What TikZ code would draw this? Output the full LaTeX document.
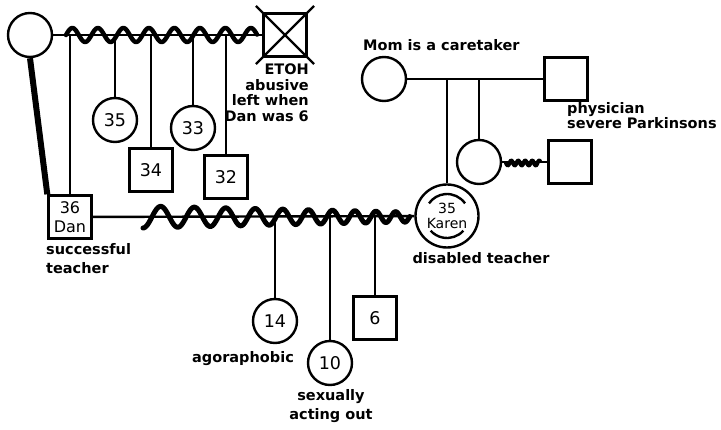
\documentclass[tikz,border=0pt]{standalone}
\usepackage{fontspec}
\setmainfont{DejaVu Sans}
\begin{document}
\begin{tikzpicture}[x=1pt,y=-1pt,
  lbl/.style={font=\fontsize{14.5}{15.5}\selectfont\bfseries, inner sep=0pt},
  fem/.style={circle, draw, line width=2.4pt, minimum size=44pt, inner sep=0pt, font=\fontsize{17.5}{17}\selectfont},
  mal/.style={rectangle, draw, line width=2.4pt, minimum width=43pt, minimum height=43pt, inner sep=0pt, font=\fontsize{17.5}{17}\selectfont},
  rel/.style={line width=2.4pt},
  conflict/.style={line width=4.5pt, line cap=round, line join=round},
  cutoff/.style={line width=6pt}]
\useasboundingbox (0,0) rectangle (721,430);

% ---- Dan's parents ----
\node[fem] (gm) at (30,35) {};
\node[mal] (gf) at (285,35) {};
\draw[rel, shorten <=-9pt, shorten >=-9pt] (gf.north west) -- (gf.south east);
\draw[rel, shorten <=-9pt, shorten >=-9pt] (gf.north east) -- (gf.south west);
\draw[rel] (gm) -- (gf);
\draw[conflict] plot[domain=66:257, samples=160, smooth] (\x, {35 - 7*sin(deg(2*pi*(\x-66)/25.5))});
\node[lbl, anchor=north east, align=right] (etoh) at (309,64) {ETOH\\abusive\\left when\\Dan was 6};

% ---- siblings of Dan ----
\node[mal, align=center, font=\fontsize{16}{19}\selectfont] (dan) at (70,217) {36\\Dan};
\node[fem] (s35) at (115,120) {35};
\node[mal] (b34) at (151,170) {34};
\node[fem] (s33) at (193,128) {33};
\node[mal] (b32) at (226,177) {32};
\draw[rel] (dan) -- (dan |- gm);
\draw[rel] (s35) -- (s35 |- gm);
\draw[rel] (b34) -- (b34 |- gm);
\draw[rel] (s33) -- (s33 |- gm);
\draw[rel] (b32) -- (b32 |- gm);
\draw[cutoff] (gm.south) -- (dan.north west);
\node[lbl, anchor=north west, align=left, font=\fontsize{14.5}{19.5}\selectfont\bfseries] (dl) at (46,243) {successful\\teacher};

% ---- Karen's parents ----
\node[fem] (mom) at (384,79) {};
\node[mal] (kdad) at (566,79) {};
\draw[rel] (mom) -- (kdad);
\node[lbl, anchor=north west] (moml) at (363,39) {Mom is a caretaker};
\node[lbl, anchor=north west, align=left, font=\fontsize{14.5}{14}\selectfont\bfseries] (phys) at (567,102) {physician\\severe Parkinsons};

% ---- Karen and her sister ----
\node[fem, minimum size=63pt, align=center, font=\fontsize{14}{15.5}\selectfont] (karen) at (447,216) {35\\Karen};
\draw[rel] ([shift={(35:22pt)}]karen.center) arc[start angle=35, end angle=145, radius=22pt];
\draw[rel] ([shift={(-42:22pt)}]karen.center) arc[start angle=-42, end angle=-138, radius=22pt];
\node[fem] (sis) at (479,162) {};
\node[mal] (sish) at (570,162) {};
\draw[rel] (karen) -- (karen |- mom);
\draw[rel] (sis) -- (sis |- mom);
\draw[rel] (sis) -- (sish);
\draw[conflict, line width=4pt] plot[domain=506:540, samples=60, smooth] (\x, {163 + 2.5*sin(deg(2*pi*(\x-506)/7))});
\node[lbl, anchor=north] (kl) at (481,252) {disabled teacher};

% ---- Dan + Karen ----
\draw[rel] (dan) -- (karen);
\draw[conflict, line width=5pt] plot[domain=0:1, samples=300, smooth] ({143+267*\x}, {217 + (11-6*\x)*cos(deg(2*pi*14.83*ln(36/(36-18*\x))))});

\node[fem] (d14) at (275,321) {14};
\node[fem] (d10) at (330,363) {10};
\node[mal] (s6) at (375,318) {6};
\draw[rel] (d14) -- (d14 |- dan);
\draw[rel] (d10) -- (d10 |- dan);
\draw[rel] (s6) -- (s6 |- dan);
\node[lbl, anchor=north] (d14l) at (243,351) {agoraphobic};
\node[lbl, anchor=north, align=center, font=\fontsize{14.5}{19}\selectfont\bfseries] (d10l) at (331,389) {sexually\\acting out};
\end{tikzpicture}
\end{document}
